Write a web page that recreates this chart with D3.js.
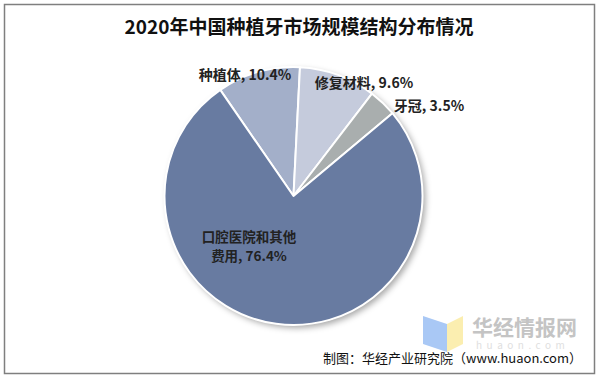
<!DOCTYPE html>
<html>
<head>
<meta charset="utf-8">
<script src="https://cdn.jsdelivr.net/npm/d3@7"></script>
<style>
  body { margin: 0; background: #fff; }
  text { font-family: "Noto Sans CJK SC", "Liberation Sans", sans-serif; }
</style>
</head>
<body>
<div id="chart"></div>
<script>
// data
const categories = ["种植体", "修复材料", "牙冠", "口腔医院和其他费用"];
const shares = [10.4, 9.6, 3.5, 76.4];
const sliceColours = ["#a3afc9", "#c5cbdc", "#a9aeae", "#687ba1"];
const title = "2020年中国种植牙市场规模结构分布情况";
const source = "制图：华经产业研究院（www.huaon.com）";

const width = 598, height = 378;
const cx = 293.5, cy = 196, radius = 129;

const svg = d3.select("#chart").append("svg")
    .attr("width", width)
    .attr("height", height);

const defs = svg.append("defs");
const shadow = defs.append("filter").attr("id", "shadow")
    .attr("x", "-20%").attr("y", "-20%").attr("width", "140%").attr("height", "140%");
shadow.append("feDropShadow")
    .attr("dx", 3).attr("dy", 3).attr("stdDeviation", 3)
    .attr("flood-color", "#000").attr("flood-opacity", 0.35);

// outer frame
svg.append("rect")
    .attr("x", 4.5).attr("y", 4.5)
    .attr("width", 590).attr("height", 369)
    .attr("fill", "none")
    .attr("stroke", "#7f7f7f")
    .attr("stroke-width", 1.5);

svg.append("text")
    .attr("x", 299).attr("y", 34)
    .attr("text-anchor", "middle")
    .attr("font-size", 19)
    .attr("font-weight", "bold")
    .attr("fill", "#111")
    .style("font-family", "'Noto Sans CJK SC', serif")
    .text(title);

// watermark
const wm = svg.append("g").attr("class", "watermark");
wm.append("path")
    .attr("d", "M423,316 L447,324 L447,352 L423,344 Z")
    .attr("fill", "#a9c8f5");
wm.append("path")
    .attr("d", "M447,324 L463,316 L463,344 L447,352 Z")
    .attr("fill", "#fbeeb0");
wm.append("text")
    .attr("x", 472).attr("y", 335)
    .attr("font-size", 21)
    .attr("font-weight", "bold")
    .attr("fill", "#c4c4c4")
    .text("华经情报网");
wm.append("text")
    .attr("x", 476).attr("y", 349)
    .attr("font-size", 10)
    .attr("letter-spacing", 4.5)
    .attr("fill", "#e0e0e0")
    .text("huaon.com");

// pie
const pie = d3.pie()
    .sort(null)
    .value(d => d)
    .startAngle(-34.6 * Math.PI / 180)
    .endAngle((360 - 34.6) * Math.PI / 180);

const arc = d3.arc().innerRadius(0).outerRadius(radius);

const g = svg.append("g")
    .attr("transform", `translate(${cx}, ${cy})`);

g.append("circle")
    .attr("r", radius)
    .attr("fill", "#fff")
    .attr("filter", "url(#shadow)");

g.selectAll(".slice")
    .data(pie(shares))
    .join("path")
    .attr("class", "slice")
    .attr("d", arc)
    .attr("fill", (d, i) => sliceColours[i])
    .attr("stroke", "#fff")
    .attr("stroke-width", 2)
    .attr("stroke-linejoin", "round");

// labels
const labelPos = [
    {x: 245, y: 80, anchor: "middle"},
    {x: 364, y: 88, anchor: "middle"},
    {x: 429, y: 111, anchor: "middle"}
];
const fmt = d => d.toFixed(1) + "%";

svg.selectAll(".label")
    .data(labelPos)
    .join("text")
    .attr("class", "label")
    .attr("x", d => d.x)
    .attr("y", d => d.y)
    .attr("text-anchor", d => d.anchor)
    .attr("font-size", 14)
    .attr("font-weight", "bold")
    .attr("fill", "#222")
    .text((d, i) => `${categories[i]}, ${fmt(shares[i])}`);

const bigLines = [categories[3].slice(0, 7), `${categories[3].slice(7)}, ${fmt(shares[3])}`];
svg.selectAll(".big-label")
    .data(bigLines)
    .join("text")
    .attr("class", "big-label")
    .attr("x", 249)
    .attr("y", (d, i) => 242 + i * 19)
    .attr("text-anchor", "middle")
    .attr("font-size", 13.5)
    .attr("font-weight", "bold")
    .attr("fill", "#222")
    .text(d => d);

svg.append("text")
    .attr("x", 582).attr("y", 363)
    .attr("text-anchor", "end")
    .attr("font-size", 13)
    .attr("fill", "#111")
    .text(source);
</script>
</body>
</html>
